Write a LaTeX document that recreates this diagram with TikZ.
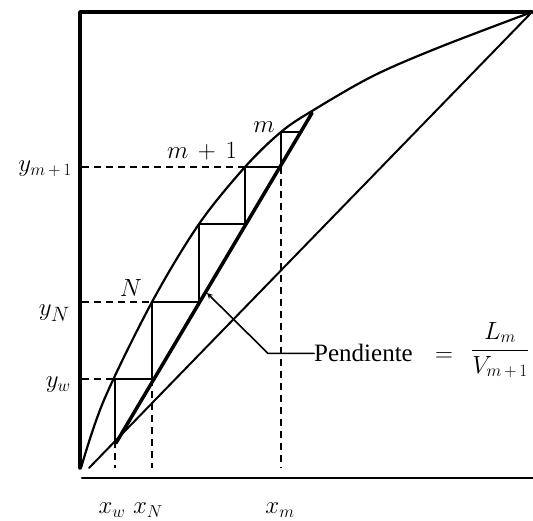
\documentclass[tikz,border=0pt]{standalone}
\usepackage{fontspec}
\setmainfont{Liberation Serif}
\usetikzlibrary{arrows}
\begin{document}
\begin{tikzpicture}[line join=round, line cap=round,>=stealth,x=1pt,y=-1pt,
	guide/.style={line width=1.8pt,line cap=butt,dash pattern=on 7pt off 5pt},
	stair/.style={line width=1.8pt},
	lbl/.style={font=\fontsize{24}{28}\selectfont,inner sep=0pt},
	txt/.style={font=\fontsize{25}{30}\selectfont,inner sep=0pt}]
	\useasboundingbox (0,0) rectangle (533,521);
	\path
	(80,12) coordinate (T)
	(532,12) coordinate (E)
	(80,468) coordinate (O)
	(89,468) coordinate (D)
	(116,443) coordinate (W)
	(312,113) coordinate (M)
	(207,293) coordinate (P);
	% marco y ejes
	\draw[line width=3.5pt] (O)--(T)--(E);
	\draw[line width=2.2pt] (82,478)--(533,478);
	% curva de equilibrio, diagonal y recta de operacion
	\draw[line width=2.2pt] plot[smooth,tension=0.55] coordinates{(81,468) (104,400) (152,302) (199,224) (245,167) (281,132) (312,111) (373,76) (440,47) (E)};
	\draw[line width=2pt] (D)--(E);
	\draw[line width=3.5pt] (W)--(M);
	\draw[stair] (115,441)--(115,379)--(152,379)--(152,302)--(199,302)--(199,224)--(245,224)--(245,167)--(281,167)--(281,132)--(301,132);
	\foreach \x/\y in {115/441, 152/379, 281/167} \draw[guide] (\x,\y)--(\x,468);
	\foreach \y/\x in {167/245, 302/152, 379/114} \draw[guide] (82,\y)--(\x,\y);
	% etiquetas
	\foreach \i/\x/\t in {xw/112/w, xN/148/N, xm/280/m} \node[lbl] (\i) at (\x,510) {$x_{\t}$};
	\node[lbl,anchor=east,font=\fontsize{26}{30}\selectfont] (ym) at (72,169) {$y_{m\,+\,1}$};
	\node[lbl,anchor=east,font=\fontsize{30}{34}\selectfont] (yN) at (70,313) {$y_N$};
	\node[lbl,anchor=east] (yw) at (71,385) {$y_w$};
	\node[lbl] (N) at (131,288) {$N$};
	\node[lbl] (m1) at (202,151) {$m\,+\,1$};
	\node[lbl] (m) at (264,127) {$m$};
	\node[txt,anchor=base west] (pend) at (314,362) {Pendiente};
	\node[txt,anchor=base west,font=\fontsize{27}{32}\selectfont] (frac) at ([xshift=22pt]pend.base east) {$=$\hspace{18pt}\raisebox{6pt}{$\displaystyle\frac{L_m}{V_{m\,+\,1}}$}};
	\draw[->,line width=1.6pt] (pend.west) -- ++(-46,0) -- (P);
\end{tikzpicture}
\end{document}
